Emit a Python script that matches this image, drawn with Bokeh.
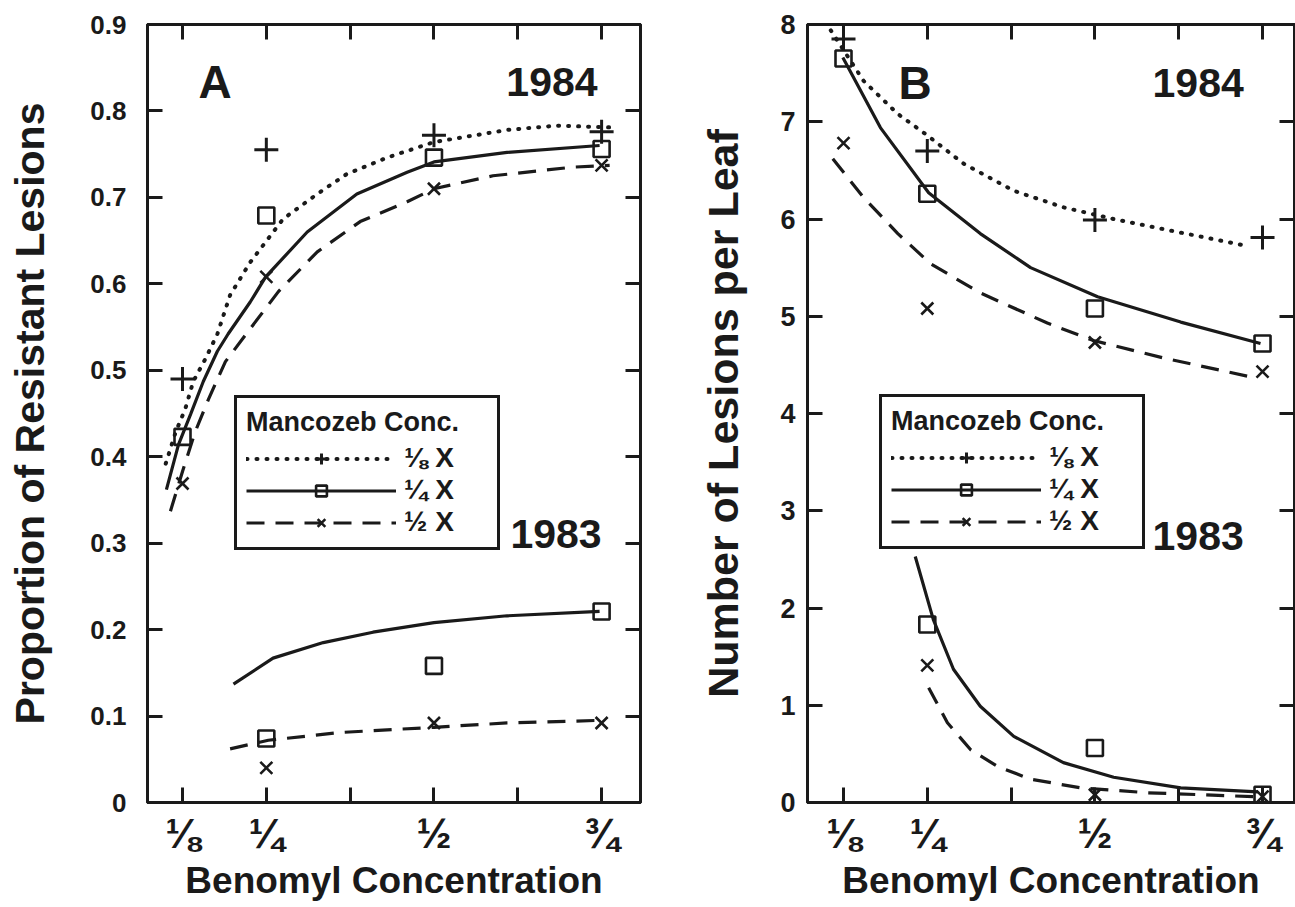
from bokeh.plotting import figure
from bokeh.layouts import row
from bokeh.models import (LinearAxis, FixedTicker, Legend, LegendItem, Label,
                          Range1d, PrintfTickFormatter)
from bokeh.embed import file_html
from bokeh.resources import INLINE

# ---------------- data ----------------
conc = [0.125, 0.25, 0.5, 0.75]
conc83 = [0.25, 0.5, 0.75]
x_label_ticks = [0.125, 0.25, 0.5, 0.75]
x_plain_ticks = [0.375, 0.625]
x_all_ticks = [0.125, 0.25, 0.375, 0.5, 0.625, 0.75]
x_tick_labels = {0.125: "⅛", 0.25: "¼", 0.5: "½", 0.75: "¾"}
legend_labels = ["⅛ X", "¼ X", "½ X"]

# Panel A: proportion of resistant lesions
a84_eighth = [0.49, 0.755, 0.772, 0.776]
a84_quarter = [0.423, 0.679, 0.746, 0.756]
a84_half = [0.369, 0.608, 0.710, 0.737]
a83_quarter = [0.074, 0.158, 0.221]
a83_half = [0.040, 0.092, 0.092]

a84_eighth_fit_x = [0.100, 0.115, 0.129, 0.141, 0.159, 0.177, 0.196, 0.211, 0.226, 0.275, 0.326, 0.370, 0.430, 0.5, 0.609, 0.683, 0.762]
a84_eighth_fit_y = [0.392, 0.429, 0.455, 0.487, 0.513, 0.542, 0.587, 0.606, 0.625, 0.675, 0.704, 0.727, 0.746, 0.764, 0.778, 0.783, 0.781]
a84_quarter_fit_x = [0.101, 0.119, 0.137, 0.156, 0.177, 0.193, 0.226, 0.249, 0.311, 0.385, 0.460, 0.5, 0.609, 0.747]
a84_quarter_fit_y = [0.362, 0.414, 0.449, 0.487, 0.522, 0.542, 0.579, 0.608, 0.660, 0.704, 0.729, 0.741, 0.752, 0.760]
a84_half_fit_x = [0.107, 0.125, 0.144, 0.164, 0.189, 0.219, 0.268, 0.326, 0.390, 0.460, 0.5, 0.588, 0.707, 0.762]
a84_half_fit_y = [0.337, 0.383, 0.429, 0.467, 0.510, 0.541, 0.591, 0.637, 0.672, 0.695, 0.710, 0.725, 0.735, 0.737]
a83_quarter_fit_x = [0.201, 0.260, 0.335, 0.409, 0.5, 0.609, 0.747]
a83_quarter_fit_y = [0.137, 0.167, 0.185, 0.197, 0.208, 0.216, 0.221]
a83_half_fit_x = [0.196, 0.253, 0.360, 0.5, 0.609, 0.747]
a83_half_fit_y = [0.062, 0.072, 0.081, 0.087, 0.092, 0.095]

# Panel B: number of lesions per leaf
b84_eighth = [7.85, 6.70, 5.99, 5.81]
b84_quarter = [7.65, 6.26, 5.08, 4.72]
b84_half = [6.78, 5.08, 4.73, 4.43]
b83_quarter = [1.83, 0.56, 0.08]
b83_half = [1.41, 0.08, 0.06]

b84_eighth_fit_x = [0.106, 0.155, 0.206, 0.250, 0.304, 0.379, 0.453, 0.528, 0.628, 0.722]
b84_eighth_fit_y = [7.94, 7.42, 7.08, 6.86, 6.57, 6.29, 6.12, 6.00, 5.86, 5.73]
b84_quarter_fit_x = [0.124, 0.180, 0.252, 0.329, 0.404, 0.504, 0.628, 0.747]
b84_quarter_fit_y = [7.66, 6.94, 6.27, 5.85, 5.50, 5.20, 4.94, 4.72]
b84_half_fit_x = [0.109, 0.155, 0.206, 0.255, 0.329, 0.429, 0.498, 0.603, 0.737]
b84_half_fit_y = [6.62, 6.22, 5.85, 5.54, 5.24, 4.93, 4.75, 4.57, 4.37]
b83_quarter_fit_x = [0.232, 0.259, 0.289, 0.329, 0.379, 0.453, 0.528, 0.628, 0.743]
b83_quarter_fit_y = [2.53, 1.88, 1.37, 0.99, 0.68, 0.41, 0.26, 0.15, 0.11]
b83_half_fit_x = [0.252, 0.280, 0.315, 0.355, 0.404, 0.479, 0.579, 0.737]
b83_half_fit_y = [1.18, 0.82, 0.54, 0.37, 0.24, 0.15, 0.10, 0.06]

a_yticks = [0, 0.1, 0.2, 0.3, 0.4, 0.5, 0.6, 0.7, 0.8, 0.9]
b_yticks = [0, 1, 2, 3, 4, 5, 6, 7, 8]

FONT = "Liberation Sans"
INK = "#1a1a1a"

DOT = dict(line_dash="1 9", line_cap="round", line_width=4)
SOLID = dict(line_width=3.2)
DASH = dict(line_dash="18 11", line_width=3.2)


def style_axis(ax):
    ax.axis_line_width = 3
    ax.axis_line_color = INK
    for kind in ("major", "minor"):
        setattr(ax, kind + "_tick_line_width", 3)
        setattr(ax, kind + "_tick_line_color", INK)
        setattr(ax, kind + "_tick_in", 15)
        setattr(ax, kind + "_tick_out", 0)
    ax.major_label_text_font = FONT
    ax.major_label_text_font_style = "bold"
    ax.major_label_text_color = INK
    ax.axis_label_text_font = FONT
    ax.axis_label_text_font_style = "bold"
    ax.axis_label_text_color = INK


def make_panel(width, xr, yr, yticks, ylabel, ytick_size, ytick_standoff,
               ylab_size, ylab_standoff, left, right, top, bottom):
    p = figure(width=width, height=907, x_range=Range1d(*xr), y_range=Range1d(*yr),
               output_backend="svg", toolbar_location=None,
               min_border_left=left, min_border_right=right,
               min_border_top=top, min_border_bottom=bottom,
               x_axis_label="Benomyl Concentration", y_axis_label=ylabel)
    p.grid.visible = False
    p.outline_line_color = INK
    p.outline_line_width = 3
    p.background_fill_color = "white"
    p.border_fill_color = "white"
    xa = p.xaxis[0]
    style_axis(xa)
    xa.ticker = FixedTicker(ticks=x_label_ticks, minor_ticks=x_plain_ticks)
    xa.major_label_overrides = x_tick_labels
    xa.major_label_text_font_size = "42px"
    xa.major_label_standoff = 7
    xa.axis_label_text_font_size = "37px"
    xa.axis_label_standoff = 0
    ya = p.yaxis[0]
    style_axis(ya)
    ya.ticker = FixedTicker(ticks=yticks)
    ya.minor_tick_line_color = None
    ya.major_label_text_font_size = ytick_size
    ya.major_label_standoff = ytick_standoff
    ya.axis_label_text_font_size = ylab_size
    ya.axis_label_standoff = ylab_standoff
    # top / right borders carry ticks only (as minor ticks, so no labels)
    top_ax = LinearAxis(ticker=FixedTicker(ticks=[], minor_ticks=x_all_ticks),
                        major_label_standoff=0)
    style_axis(top_ax)
    p.add_layout(top_ax, "above")
    right_ax = LinearAxis(ticker=FixedTicker(ticks=[], minor_ticks=yticks),
                          major_label_standoff=0)
    style_axis(right_ax)
    p.add_layout(right_ax, "right")
    return p


def draw(p, fits84, pts84, fits83, pts83):
    styles = [DOT, SOLID, DASH]
    markers = [dict(marker="cross", size=24, line_width=3),
               dict(marker="square", size=16, line_width=2.6, fill_color=None),
               dict(marker="x", size=17, line_width=2.6)]
    items = []
    for (fx, fy), pts, st, mk, lab in zip(fits84, pts84, styles, markers, legend_labels):
        lr = p.line(fx, fy, color=INK, **st)
        sr = p.scatter(conc, pts, color=INK, **mk)
        items.append(LegendItem(label=lab, renderers=[lr, sr]))
    for (fx, fy), st in zip(fits83, [SOLID, DASH]):
        p.line(fx, fy, color=INK, **st)
    for pts, mk in zip(pts83, markers[1:]):
        p.scatter(conc83, pts, color=INK, **mk)
    return items


def add_legend(p, items, loc):
    lg = Legend(items=items, location=loc, title="Mancozeb Conc.",
                title_text_font=FONT, title_text_font_style="bold",
                title_text_font_size="27px", title_text_color=INK,
                title_standoff=4,
                label_text_font=FONT, label_text_font_style="bold",
                label_text_font_size="28px", label_text_color=INK,
                glyph_width=150, glyph_height=27, label_height=27, label_width=84,
                label_standoff=8, spacing=0, padding=9, margin=0,
                border_line_color=INK, border_line_alpha=1.0, border_line_width=3,
                background_fill_alpha=0)
    p.add_layout(lg)


def add_text(p, x, y, text, size, align):
    p.add_layout(Label(x=x, y=y, text=text, text_font=FONT, text_font_style="bold",
                       text_font_size=size, text_color=INK, text_align=align,
                       text_baseline="alphabetic"))


# ---------------- panel A ----------------
pA = make_panel(660, (0.0728, 0.808), (0, 0.9), a_yticks,
                "Proportion of Resistant Lesions", "26px", 21, "41px", 34,
                147, 20, 22, 105)
pA.yaxis[0].formatter = PrintfTickFormatter(format="%.1f")
pA.yaxis[0].major_label_overrides = {0: "0"}
itemsA = draw(pA,
              [(a84_eighth_fit_x, a84_eighth_fit_y), (a84_quarter_fit_x, a84_quarter_fit_y),
               (a84_half_fit_x, a84_half_fit_y)],
              [a84_eighth, a84_quarter, a84_half],
              [(a83_quarter_fit_x, a83_quarter_fit_y), (a83_half_fit_x, a83_half_fit_y)],
              [a83_quarter, a83_half])
add_legend(pA, itemsA, (87, 252))
add_text(pA, 0.149, 0.834, "A", "46px", "left")
add_text(pA, 0.744, 0.834, "1984", "41px", "right")
add_text(pA, 0.750, 0.311, "1983", "41px", "right")

# ---------------- panel B ----------------
pB = make_panel(635, (0.0713, 0.7977), (0, 8), b_yticks,
                "Number of Lesions per Leaf", "27px", 12, "43px", 30,
                147, 1, 24, 104)
itemsB = draw(pB,
              [(b84_eighth_fit_x, b84_eighth_fit_y), (b84_quarter_fit_x, b84_quarter_fit_y),
               (b84_half_fit_x, b84_half_fit_y)],
              [b84_eighth, b84_quarter, b84_half],
              [(b83_quarter_fit_x, b83_quarter_fit_y), (b83_half_fit_x, b83_half_fit_y)],
              [b83_quarter, b83_half])
add_legend(pB, itemsB, (72, 253))
add_text(pB, 0.207, 7.40, "B", "46px", "left")
add_text(pB, 0.722, 7.40, "1984", "41px", "right")
add_text(pB, 0.722, 2.74, "1983", "41px", "right")

layout = row(pA, pB)
open("out.html", "w").write(file_html(layout, INLINE))
